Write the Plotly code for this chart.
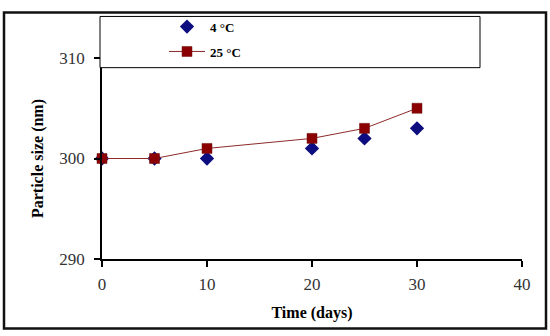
import plotly.graph_objects as go

days = [0, 5, 10, 20, 25, 30]
size_4c = [300, 300, 300, 301, 302, 303]
size_25c = [300, 300, 301, 302, 303, 305]
x_ticks = [0, 10, 20, 30, 40]
y_ticks = [290, 300, 310]

W, H = 550, 336
L, R, T, B = 102, 28, 51, 77
pw, ph = W - L - R, H - T - B

def px(xp):
    return (xp - L) / pw

def py(yp):
    return (H - B - yp) / ph

fig = go.Figure()
fig.add_trace(go.Scatter(
    x=days, y=size_4c, mode="markers", name="4 °C",
    marker=dict(symbol="diamond", size=11, color="#0d0d80"),
    cliponaxis=False, legendgroup="a"))
fig.add_trace(go.Scatter(
    x=days, y=size_25c, mode="lines+markers", name="25 °C",
    line=dict(color="#8e2a2a", width=1),
    marker=dict(symbol="square", size=10, color="#8b0000",
                line=dict(color="#6a1010", width=0.5)),
    cliponaxis=False, legendgroup="b"))

serif = "Liberation Serif"
fig.update_layout(
    width=W, height=H,
    margin=dict(l=L, r=R, t=T, b=B),
    paper_bgcolor="white", plot_bgcolor="white",
    font=dict(family=serif, color="#222"),
    showlegend=True,
    legend=dict(x=px(164), y=py(3), xanchor="left", yanchor="top",
                bgcolor="rgba(0,0,0,0)", borderwidth=0,
                font=dict(family=serif, size=13, color="black", weight="bold"),
                tracegroupgap=5, itemwidth=36),
    xaxis=dict(range=[0, 40], tickvals=x_ticks, ticks="outside", ticklen=6,
               tickwidth=1.5, tickcolor="black", showline=True, linecolor="black",
               linewidth=1.5, showgrid=False, zeroline=False, ticklabelstandoff=3,
               tickfont=dict(size=17, family=serif, color="#333"),
               title=dict(text="Time (days)", standoff=14,
                          font=dict(size=16, family=serif, color="black", weight="bold"))),
    yaxis=dict(range=[290, 310], tickvals=y_ticks, ticks="outside", ticklen=6,
               tickwidth=1.5, tickcolor="black", showline=True, linecolor="black",
               linewidth=1.5, showgrid=False, zeroline=False, ticklabelstandoff=6,
               tickfont=dict(size=17, family=serif, color="#333"),
               title=dict(text="Particle size (nm)", standoff=12,
                          font=dict(size=16, family=serif, color="black", weight="bold"))),
    shapes=[
        dict(type="rect", xref="paper", yref="paper",
             x0=px(4), x1=px(546), y0=py(331), y1=py(4),
             line=dict(color="#111", width=2.5), fillcolor="rgba(0,0,0,0)", layer="below"),
        dict(type="rect", xref="paper", yref="paper",
             x0=px(100), x1=px(480), y0=py(61), y1=py(8),
             line=dict(color="black", width=1), fillcolor="white", layer="above"),
    ],
)
fig.write_html("out.html", config={"displayModeBar": False},
               post_script="document.body.style.margin='0';document.body.style.overflow='hidden';")
